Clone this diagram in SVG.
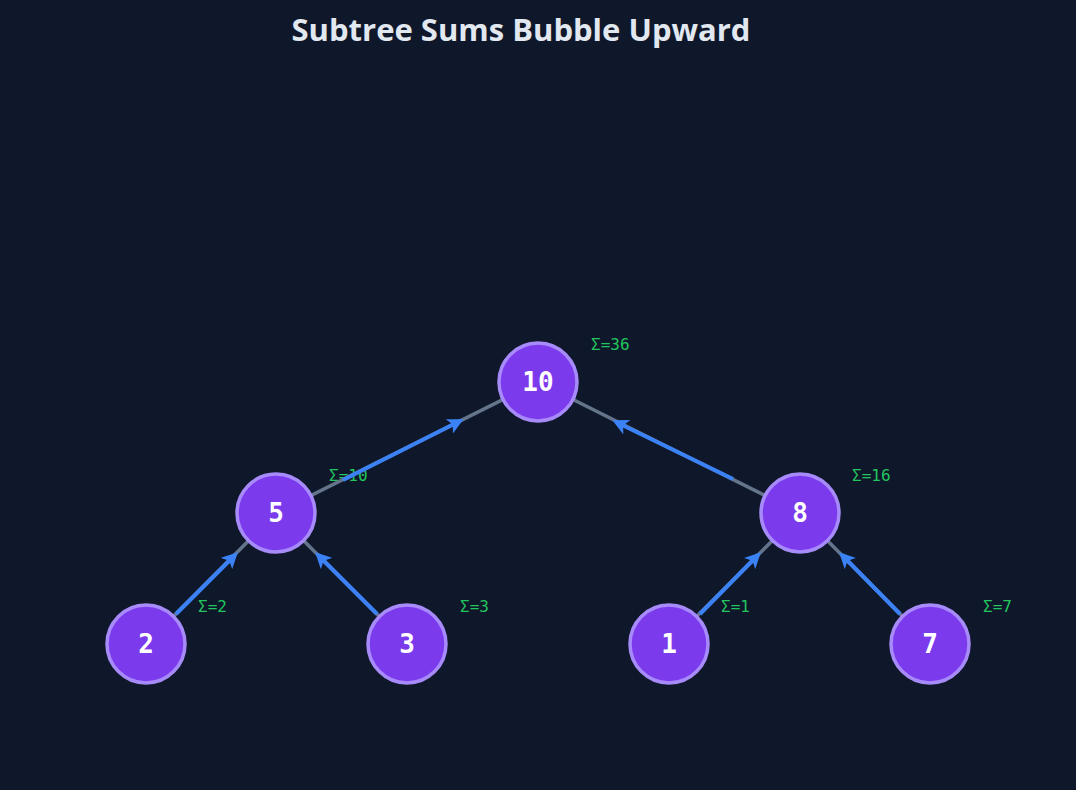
<svg xmlns="http://www.w3.org/2000/svg" width="1076" height="790" viewBox="0 0 1076 790">
<style>
.n circle{fill:#7c3aed;stroke:#a78bfa;stroke-width:3.5}
.n text{fill:#fff;font-family:"DejaVu Sans Mono",monospace;font-weight:bold;font-size:26px;text-anchor:middle}
.s{fill:#22c55e;font-family:"DejaVu Sans Mono",monospace;font-size:16px}
.e{stroke:#64748b;stroke-width:3.5}
.a{stroke:#3b82f6;stroke-width:4;marker-end:url(#ah)}
</style>
<defs><marker id="ah" markerWidth="4" markerHeight="4" refX="3" refY="2" orient="auto"><path d="M0,0L4,2L0,4L1,2Z" fill="#3b82f6"/></marker></defs>
<rect width="1076" height="790" fill="#0f172a"/>
<text x="521" y="41" text-anchor="middle" fill="#e2e8f0" font-family="'Open Sans','DejaVu Sans',sans-serif" font-weight="bold" font-size="31">Subtree Sums Bubble Upward</text>
<g id="sums">
<text class="s" x="591" y="350">Σ=36</text>
<text class="s" x="329" y="481">Σ=10</text>
<text class="s" x="852" y="481">Σ=16</text>
<text class="s" x="198" y="612">Σ=2</text>
<text class="s" x="460" y="612">Σ=3</text>
<text class="s" x="721" y="612">Σ=1</text>
<text class="s" x="983" y="612">Σ=7</text>
</g>
<g id="connectors">
<line class="e" x1="538" y1="382" x2="276" y2="513"/>
<line class="e" x1="538" y1="382" x2="800" y2="513"/>
<line class="e" x1="276" y1="513" x2="146" y2="644"/>
<line class="e" x1="276" y1="513" x2="407" y2="644"/>
<line class="e" x1="800" y1="513" x2="669" y2="644"/>
<line class="e" x1="800" y1="513" x2="930" y2="644"/>
<line class="a" x1="343" y1="480" x2="460" y2="421"/>
<line class="a" x1="733" y1="479" x2="616" y2="422"/>
<line class="a" x1="176" y1="614" x2="235" y2="555"/>
<line class="a" x1="377" y1="614" x2="318" y2="555"/>
<line class="a" x1="700" y1="614" x2="758" y2="555"/>
<line class="a" x1="900" y1="614" x2="842" y2="555"/>
</g>
<g id="n10" class="n"><circle cx="538" cy="382" r="39"/><text x="538" y="391">10</text></g>
<g id="n5" class="n"><circle cx="276" cy="513" r="39"/><text x="276" y="522">5</text></g>
<g id="n8" class="n"><circle cx="800" cy="513" r="39"/><text x="800" y="522">8</text></g>
<g id="n2" class="n"><circle cx="146" cy="644" r="39"/><text x="146" y="653">2</text></g>
<g id="n3" class="n"><circle cx="407" cy="644" r="39"/><text x="407" y="653">3</text></g>
<g id="n1" class="n"><circle cx="669" cy="644" r="39"/><text x="669" y="653">1</text></g>
<g id="n7" class="n"><circle cx="930" cy="644" r="39"/><text x="930" y="653">7</text></g>
</svg>
